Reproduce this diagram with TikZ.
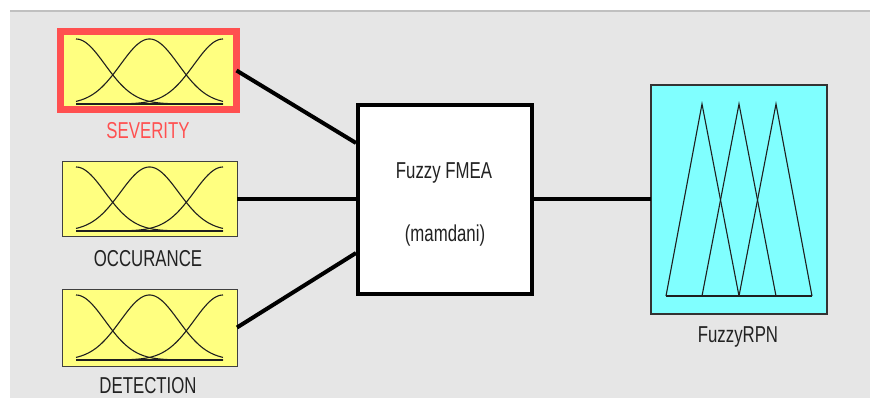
\documentclass[tikz,border=0pt]{standalone}
\usepackage{fontspec}
\setmainfont{Liberation Sans}
\definecolor{bggray}{HTML}{E6E6E6}
\definecolor{topline}{HTML}{C0C0C0}
\definecolor{mfyellow}{HTML}{FFFF80}
\definecolor{mfcyan}{HTML}{80FFFF}
\definecolor{selred}{HTML}{FF5050}
\definecolor{txtgray}{HTML}{222222}
\tikzset{
  varbox/.style={rectangle, inner sep=0pt, outer sep=0pt, fill=mfyellow, draw=black!75, line width=1pt},
  selbox/.style={varbox, draw=selred, line width=7pt},
  outbox/.style={rectangle, inner sep=0pt, outer sep=0pt, fill=mfcyan, draw=black!80, line width=1.3pt},
  sysbox/.style={rectangle, inner sep=0pt, fill=white, draw=black, line width=4pt},
  lbl/.style={font=\fontsize{23}{26}\selectfont, text=txtgray, inner sep=0pt, xscale=0.73},
  wire/.style={line width=4pt, black},
  mf/.style={line width=1.1pt, black!88}
}
\newcommand{\gaussmf}[2]{%
  % #1 = top y, #2 = bottom y (pixel coords, y downwards)
  \foreach \c in {76,149.5,223}{
    \draw[mf] plot[domain=76:223, samples=90, smooth] (\x, {#2 - (#2-#1)*exp(-0.5*((\x-\c)/29)^2)});
  }
  \draw[mf] (76,#2) -- (223,#2);
}
\begin{document}
\begin{tikzpicture}[x=1pt, y=-1pt]
\useasboundingbox (0,0) rectangle (870,398);
\fill[white] (0,0) rectangle (870,398);
\fill[bggray] (10,11) rectangle (870,398);
\fill[topline] (10,10) rectangle (870,12.5);

% input variables
\node[selbox, minimum width=176pt, minimum height=78pt] (sev) at (148.5,70.5) {};
\node[varbox, minimum width=175pt, minimum height=75pt] (occ) at (149.5,199.5) {};
\node[varbox, minimum width=175pt, minimum height=77pt] (det) at (149.5,327.5) {};
\gaussmf{39}{104}
\gaussmf{167}{231}
\gaussmf{295}{360}

\node[lbl, text=selred] (sevl) at (148,131) {SEVERITY};
\node[lbl] (occl) at (148,258.5) {OCCURANCE};
\node[lbl] (detl) at (148,385.5) {DETECTION};

% system
\node[sysbox, minimum width=174pt, minimum height=189pt] (fmea) at (445,199.5) {};
\node[lbl] (fmeat) at (444,173) {Fuzzy FMEA};
\node[lbl] (fmeam) at (445,235.5) {(mamdani)};

% output variable
\node[outbox, minimum width=176pt, minimum height=229pt] (rpn) at (739,199.5) {};
\draw[mf] (666,296) -- (702,104) -- (739,296);
\draw[mf] (702,296) -- (739,104) -- (776,296);
\draw[mf] (739,296) -- (776,104) -- (812,296);
\draw[mf] (666,296) -- (812,296);
\node[lbl] (rpnl) at (738,337) {FuzzyRPN};

% connectors
\draw[wire] (sev.east) -- ([yshift=56.5pt]fmea.west);
\draw[wire] (occ.east) -- (fmea.west);
\draw[wire] (det.east) -- ([yshift=-53.5pt]fmea.west);
\draw[wire] (fmea.east) -- (rpn.west);
\end{tikzpicture}
\end{document}
